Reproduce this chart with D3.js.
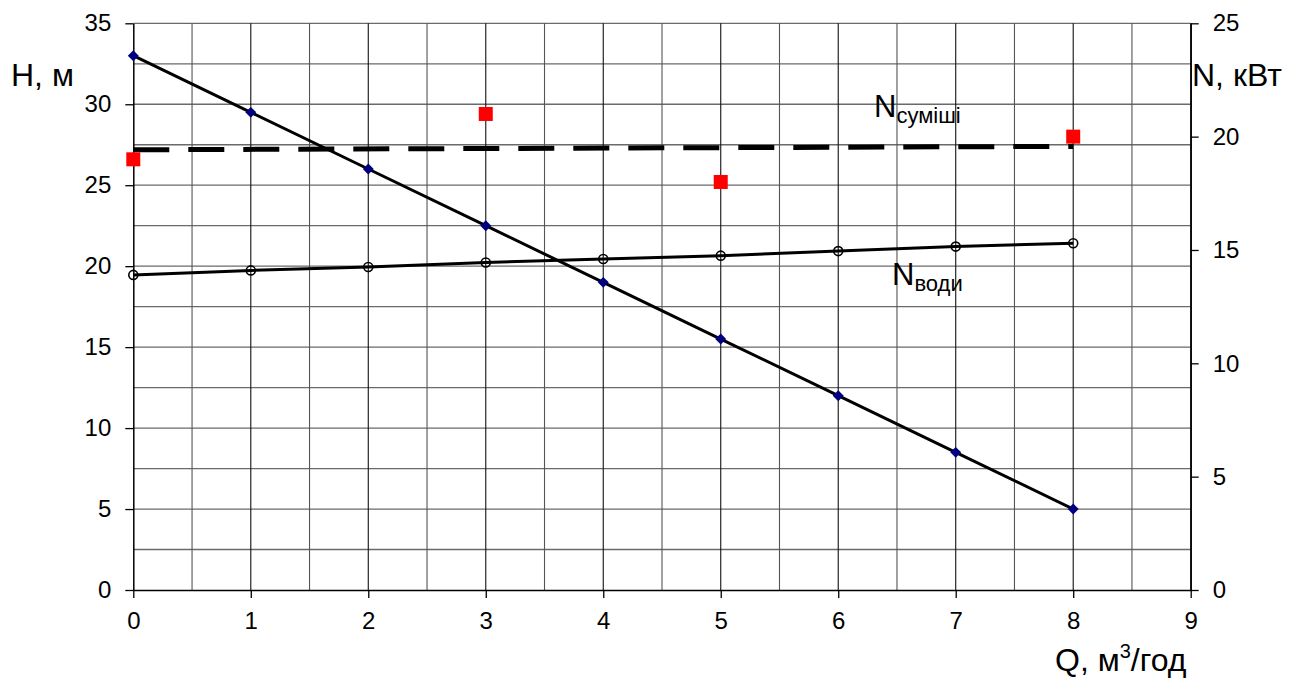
<!DOCTYPE html>
<html>
<head>
<meta charset="utf-8">
<script src="https://cdn.jsdelivr.net/npm/d3@7"></script>
<style>
  html, body { margin: 0; padding: 0; background: #fff; }
  svg { display: block; font-family: "Liberation Sans", Arial, sans-serif; }
</style>
</head>
<body>
<svg id="chart" width="1300" height="678"></svg>
<script>
// Pump characteristics: head H (left axis) and power N (right axis) vs flow Q
const flow = [0, 1, 2, 3, 4, 5, 6, 7, 8];
const head = [33, 29.5, 26, 22.5, 19, 15.5, 12, 8.5, 5];
const powerWater = [13.9, 14.1, 14.25, 14.45, 14.6, 14.75, 14.95, 15.15, 15.3];
const mixFlow = [0, 3, 5, 8];
const powerMix = [19, 21, 18, 20];
const mixTrendFlow = [0, 8];
const mixTrendPower = [19.42, 19.57];

const xTicks = [0, 1, 2, 3, 4, 5, 6, 7, 8, 9];
const leftTicks = [0, 5, 10, 15, 20, 25, 30, 35];
const rightTicks = [0, 5, 10, 15, 20, 25];

const svg = d3.select("#chart");
const plotLeft = 133.3, plotRight = 1190.7, plotTop = 23.3, plotBottom = 590;

const x = d3.scaleLinear().domain([0, 9]).range([plotLeft, plotRight]);
const yH = d3.scaleLinear().domain([0, 35]).range([plotBottom, plotTop]);
const yN = d3.scaleLinear().domain([0, 25]).range([plotBottom, plotTop]);

// grid: horizontal every 2.5 m, vertical every 0.5 m³/год
const grid = svg.append("g");
grid.selectAll("line.h").data(d3.range(2.5, 35.01, 2.5)).join("line")
  .attr("class", "h")
  .attr("x1", plotLeft).attr("x2", plotRight)
  .attr("y1", d => yH(d)).attr("y2", d => yH(d))
  .attr("stroke", "#6a6a6a").attr("stroke-width", 1.3);
grid.selectAll("line.v").data(d3.range(0.5, 9.01, 0.5)).join("line")
  .attr("class", "v")
  .attr("y1", plotTop).attr("y2", plotBottom)
  .attr("x1", d => x(d)).attr("x2", d => x(d))
  .attr("stroke", d => Number.isInteger(d) ? "#111" : "#555")
  .attr("stroke-width", 1.1);

// axes
const axisStyle = g => {
  g.select(".domain").attr("stroke", "#000").attr("stroke-width", 1.5);
  g.selectAll(".tick line").attr("stroke", "#000").attr("stroke-width", 1.3);
  g.selectAll(".tick text").attr("fill", "#000").attr("font-size", 24)
    .attr("font-family", "'Liberation Sans', Arial, sans-serif");
};
svg.append("g").attr("transform", `translate(0,${plotBottom})`)
  .call(d3.axisBottom(x).tickValues(xTicks).tickFormat(d3.format("d")).tickSize(8).tickSizeOuter(0).tickPadding(14))
  .call(axisStyle);
svg.append("g").attr("transform", `translate(${plotLeft},0)`)
  .call(d3.axisLeft(yH).tickValues(leftTicks).tickFormat(d3.format("d")).tickSize(8).tickSizeOuter(0).tickPadding(14))
  .call(axisStyle);
svg.append("g").attr("transform", `translate(${plotRight},0)`)
  .call(d3.axisRight(yN).tickValues(rightTicks).tickFormat(d3.format("d")).tickSize(8).tickSizeOuter(0).tickPadding(14))
  .call(axisStyle);

// mixture power trend (dashed)
svg.append("path")
  .datum(mixTrendFlow.map((q, i) => [q, mixTrendPower[i]]))
  .attr("d", d3.line().x(d => x(d[0])).y(d => yN(d[1])))
  .attr("fill", "none").attr("stroke", "#000").attr("stroke-width", 5)
  .attr("stroke-dasharray", "36,19");

// water power line
svg.append("path")
  .datum(flow.map((q, i) => [q, powerWater[i]]))
  .attr("d", d3.line().x(d => x(d[0])).y(d => yN(d[1])))
  .attr("fill", "none").attr("stroke", "#000").attr("stroke-width", 3);

// head line
svg.append("path")
  .datum(flow.map((q, i) => [q, head[i]]))
  .attr("d", d3.line().x(d => x(d[0])).y(d => yH(d[1])))
  .attr("fill", "none").attr("stroke", "#000").attr("stroke-width", 3);

// head markers (diamonds)
svg.append("g").selectAll("path").data(flow).join("path")
  .attr("d", d3.symbol(d3.symbolSquare, 60))
  .attr("transform", (q, i) => `translate(${x(q)},${yH(head[i])}) rotate(45)`)
  .attr("fill", "#000080");

// water power markers (open circles)
svg.append("g").selectAll("circle").data(flow).join("circle")
  .attr("cx", q => x(q)).attr("cy", (q, i) => yN(powerWater[i]))
  .attr("r", 4.5).attr("fill", "none").attr("stroke", "#000").attr("stroke-width", 1.6);

// mixture power points (red squares)
svg.append("g").selectAll("rect").data(mixFlow).join("rect")
  .attr("x", q => x(q) - 7).attr("y", (q, i) => yN(powerMix[i]) - 7)
  .attr("width", 14).attr("height", 14).attr("fill", "#ff0000");

// axis titles
svg.append("text").attr("x", 11).attr("y", 86).attr("font-size", 32).text("H, м");
svg.append("text").attr("x", 1192).attr("y", 86).attr("font-size", 32).text("N, кВт");
const qt = svg.append("text").attr("x", 1055).attr("y", 671).attr("font-size", 32);
qt.append("tspan").text("Q, м");
qt.append("tspan").attr("font-size", 20).attr("dy", -13).text("3");
qt.append("tspan").attr("dy", 13).text("/год");

// series labels
const lm = svg.append("text").attr("x", 874).attr("y", 117).attr("font-size", 31);
lm.append("tspan").text("N");
lm.append("tspan").attr("font-size", 22).attr("dy", 6).text("суміші");
const lw = svg.append("text").attr("x", 892).attr("y", 285).attr("font-size", 31);
lw.append("tspan").text("N");
lw.append("tspan").attr("font-size", 22).attr("dy", 6).text("води");
</script>
</body>
</html>
